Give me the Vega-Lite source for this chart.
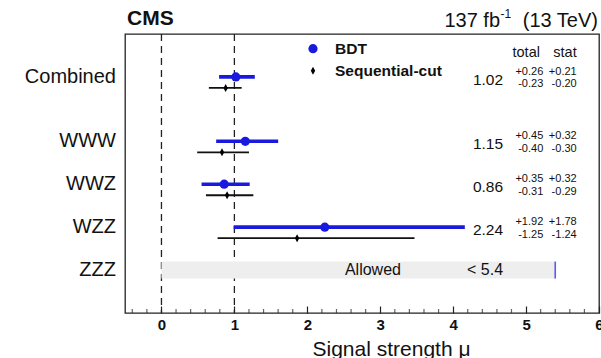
{
  "$schema": "https://vega.github.io/schema/vega-lite/v6.json",
  "width": 474,
  "height": 279,
  "autosize": {"type": "none"},
  "padding": {"left": 125, "top": 34, "right": 2, "bottom": 45},
  "background": "white",
  "config": {
    "font": "Liberation Sans",
    "view": {"stroke": "#222222", "strokeWidth": 1.3},
    "locale": {"number": {"decimal": ".", "thousands": ",", "grouping": [3], "currency": ["$", ""], "minus": "-"}},
    "axisX": {
      "tickColor": "#222222",
      "tickWidth": 1.2,
      "tickSize": -7,
      "domain": false,
      "grid": false,
      "labelFont": "Liberation Sans",
      "labelFontWeight": "bold",
      "labelFontSize": 15,
      "labelColor": "#111111",
      "labelBaseline": "alphabetic",
      "labelPadding": 23,
      "labelFlush": false,
      "labelOverlap": false,
      "labelBound": false,
      "titleFont": "Liberation Sans",
      "titleFontSize": 21,
      "titleFontWeight": "normal",
      "titleColor": "#111111",
      "titleX": 266,
      "titleY": 42,
      "titleAlign": "center",
      "titleBaseline": "alphabetic"
    }
  },
  "data": {"values": [{"k": 1}]},
  "datasets": {
    "rows": [
      {"name": "Combined", "row": 5.5, "bdt": 1.02, "bdt_lo": 0.79, "bdt_hi": 1.28, "seq": 0.88, "seq_lo": 0.65, "seq_hi": 1.10, "tot_up": 0.26, "tot_dn": -0.23, "stat_up": 0.21, "stat_dn": -0.20},
      {"name": "WWW", "row": 4, "bdt": 1.15, "bdt_lo": 0.75, "bdt_hi": 1.60, "seq": 0.83, "seq_lo": 0.49, "seq_hi": 1.20, "tot_up": 0.45, "tot_dn": -0.40, "stat_up": 0.32, "stat_dn": -0.30},
      {"name": "WWZ", "row": 3, "bdt": 0.86, "bdt_lo": 0.55, "bdt_hi": 1.21, "seq": 0.90, "seq_lo": 0.61, "seq_hi": 1.26, "tot_up": 0.35, "tot_dn": -0.31, "stat_up": 0.32, "stat_dn": -0.29},
      {"name": "WZZ", "row": 2, "bdt": 2.24, "bdt_lo": 0.99, "bdt_hi": 4.16, "seq": 1.86, "seq_lo": 0.77, "seq_hi": 3.47, "tot_up": 1.92, "tot_dn": -1.25, "stat_up": 1.78, "stat_dn": -1.24},
      {"name": "ZZZ", "row": 1, "limit": 5.4, "limit_label": "< 5.4"}
    ],
    "refs": [{"mu": 0}, {"mu": 1}],
    "minor": [
      {"v": -0.4}, {"v": -0.2}, {"v": 0.2}, {"v": 0.4}, {"v": 0.6}, {"v": 0.8},
      {"v": 1.2}, {"v": 1.4}, {"v": 1.6}, {"v": 1.8}, {"v": 2.2}, {"v": 2.4}, {"v": 2.6}, {"v": 2.8},
      {"v": 3.2}, {"v": 3.4}, {"v": 3.6}, {"v": 3.8}, {"v": 4.2}, {"v": 4.4}, {"v": 4.6}, {"v": 4.8},
      {"v": 5.2}, {"v": 5.4}, {"v": 5.6}, {"v": 5.8}
    ]
  },
  "layer": [
    {
      "data": {"name": "refs"},
      "mark": {"type": "rule", "color": "#222222", "strokeWidth": 1.3, "strokeDash": [7, 5]},
      "encoding": {
        "x": {
          "field": "mu", "type": "quantitative",
          "title": "Signal strength μ",
          "scale": {"domain": [-0.5, 6], "nice": false, "zero": false},
          "axis": {
            "values": [0, 1, 2, 3, 4, 5, 6],
            "format": "d",
            "tickSize": -7,
            "labelOverlap": false,
            "labelFlush": false,
            "labelBound": false,
            "title": "Signal strength μ"
          }
        }
      }
    },
    {
      "data": {"name": "minor"},
      "mark": {"type": "tick", "orient": "vertical", "color": "#222222", "size": 4, "thickness": 1.2, "yOffset": -2},
      "encoding": {
        "x": {"field": "v", "type": "quantitative"},
        "y": {"datum": 0, "type": "quantitative", "axis": null}
      }
    },
    {
      "data": {"name": "rows"},
      "transform": [{"filter": "datum.limit != null"}],
      "mark": {"type": "rule", "color": "#eeeeee", "strokeWidth": 17, "strokeCap": "butt"},
      "encoding": {
        "x": {"field": "limit", "type": "quantitative"},
        "x2": {"datum": 0},
        "y": {"field": "row", "type": "quantitative", "scale": {"domain": [0, 6.5], "nice": false, "zero": false}, "axis": null}
      }
    },
    {
      "data": {"name": "rows"},
      "transform": [{"filter": "datum.limit != null"}],
      "mark": {"type": "tick", "orient": "vertical", "color": "#1a1adf", "size": 17, "thickness": 1.6},
      "encoding": {
        "x": {"field": "limit", "type": "quantitative"},
        "y": {"field": "row", "type": "quantitative", "axis": null}
      }
    },
    {
      "data": {"name": "rows"},
      "transform": [{"filter": "datum.limit != null"}],
      "mark": {"type": "text", "text": "Allowed", "fontSize": 16, "color": "#111111", "align": "center", "baseline": "middle"},
      "encoding": {
        "x": {"datum": 2.9, "type": "quantitative"},
        "y": {"field": "row", "type": "quantitative", "axis": null}
      }
    },
    {
      "data": {"name": "rows"},
      "transform": [{"filter": "datum.limit != null"}],
      "mark": {"type": "text", "fontSize": 16, "color": "#111111", "align": "center", "baseline": "middle"},
      "encoding": {
        "x": {"datum": 4.437, "type": "quantitative"},
        "y": {"field": "row", "type": "quantitative", "axis": null},
        "text": {"field": "limit_label"}
      }
    },
    {
      "data": {"name": "rows"},
      "transform": [{"filter": "datum.seq != null"}],
      "mark": {"type": "rule", "color": "#111111", "strokeWidth": 1.8, "yOffset": 11},
      "encoding": {
        "x": {"field": "seq_lo", "type": "quantitative"},
        "x2": {"field": "seq_hi"},
        "y": {"field": "row", "type": "quantitative", "axis": null}
      }
    },
    {
      "data": {"name": "rows"},
      "transform": [{"filter": "datum.seq != null"}],
      "mark": {"type": "point", "shape": "M0,-1L0.55,0L0,1L-0.55,0Z", "filled": true, "color": "#000000", "opacity": 1, "size": 64, "yOffset": 11},
      "encoding": {
        "x": {"field": "seq", "type": "quantitative"},
        "y": {"field": "row", "type": "quantitative", "axis": null}
      }
    },
    {
      "data": {"name": "rows"},
      "transform": [{"filter": "datum.bdt != null"}],
      "mark": {"type": "rule", "color": "#1a1adf", "strokeWidth": 3.6},
      "encoding": {
        "x": {"field": "bdt_lo", "type": "quantitative"},
        "x2": {"field": "bdt_hi"},
        "y": {"field": "row", "type": "quantitative", "axis": null}
      }
    },
    {
      "data": {"name": "rows"},
      "transform": [{"filter": "datum.bdt != null"}],
      "mark": {"type": "point", "shape": "circle", "filled": true, "color": "#1a1adf", "opacity": 1, "size": 85},
      "encoding": {
        "x": {"field": "bdt", "type": "quantitative"},
        "y": {"field": "row", "type": "quantitative", "axis": null}
      }
    },
    {
      "data": {"name": "rows"},
      "mark": {"type": "text", "fontSize": 20, "color": "#111111", "align": "right", "baseline": "middle", "dx": -9},
      "encoding": {
        "x": {"datum": -0.5, "type": "quantitative"},
        "y": {"field": "row", "type": "quantitative", "axis": null},
        "text": {"field": "name"}
      }
    },
    {
      "data": {"name": "rows"},
      "transform": [{"filter": "datum.bdt != null"}],
      "mark": {"type": "text", "fontSize": 15.5, "color": "#111111", "align": "center", "baseline": "middle", "dy": 3},
      "encoding": {
        "x": {"datum": 4.478, "type": "quantitative"},
        "y": {"field": "row", "type": "quantitative", "axis": null},
        "text": {"field": "bdt", "format": ".2f"}
      }
    },
    {
      "data": {"name": "rows"},
      "transform": [{"filter": "datum.bdt != null"}],
      "mark": {"type": "text", "fontSize": 11, "color": "#111111", "align": "right", "baseline": "middle", "dy": -5},
      "encoding": {
        "x": {"datum": 5.236, "type": "quantitative"},
        "y": {"field": "row", "type": "quantitative", "axis": null},
        "text": {"field": "tot_up", "format": "+.2f"}
      }
    },
    {
      "data": {"name": "rows"},
      "transform": [{"filter": "datum.bdt != null"}],
      "mark": {"type": "text", "fontSize": 11, "color": "#111111", "align": "right", "baseline": "middle", "dy": 7.5},
      "encoding": {
        "x": {"datum": 5.236, "type": "quantitative"},
        "y": {"field": "row", "type": "quantitative", "axis": null},
        "text": {"field": "tot_dn", "format": ".2f"}
      }
    },
    {
      "data": {"name": "rows"},
      "transform": [{"filter": "datum.bdt != null"}],
      "mark": {"type": "text", "fontSize": 11, "color": "#111111", "align": "right", "baseline": "middle", "dy": -5},
      "encoding": {
        "x": {"datum": 5.694, "type": "quantitative"},
        "y": {"field": "row", "type": "quantitative", "axis": null},
        "text": {"field": "stat_up", "format": "+.2f"}
      }
    },
    {
      "data": {"name": "rows"},
      "transform": [{"filter": "datum.bdt != null"}],
      "mark": {"type": "text", "fontSize": 11, "color": "#111111", "align": "right", "baseline": "middle", "dy": 7.5},
      "encoding": {
        "x": {"datum": 5.694, "type": "quantitative"},
        "y": {"field": "row", "type": "quantitative", "axis": null},
        "text": {"field": "stat_dn", "format": ".2f"}
      }
    },
    {
      "mark": {"type": "text", "text": "total", "fontSize": 14.5, "color": "#111111", "align": "right", "baseline": "middle"},
      "encoding": {
        "x": {"datum": 5.19, "type": "quantitative"},
        "y": {"datum": 6.065, "type": "quantitative", "axis": null}
      }
    },
    {
      "mark": {"type": "text", "text": "stat", "fontSize": 14.5, "color": "#111111", "align": "right", "baseline": "middle"},
      "encoding": {
        "x": {"datum": 5.694, "type": "quantitative"},
        "y": {"datum": 6.065, "type": "quantitative", "axis": null}
      }
    },
    {
      "mark": {"type": "point", "shape": "circle", "filled": true, "color": "#1a1adf", "opacity": 1, "size": 85},
      "encoding": {
        "x": {"datum": 2.078, "type": "quantitative"},
        "y": {"datum": 6.157, "type": "quantitative", "axis": null}
      }
    },
    {
      "mark": {"type": "point", "shape": "M0,-1L0.55,0L0,1L-0.55,0Z", "filled": true, "color": "#000000", "opacity": 1, "size": 64},
      "encoding": {
        "x": {"datum": 2.078, "type": "quantitative"},
        "y": {"datum": 5.645, "type": "quantitative", "axis": null}
      }
    },
    {
      "mark": {"type": "text", "text": "BDT", "fontSize": 15.5, "fontWeight": "bold", "color": "#111111", "align": "left", "baseline": "middle"},
      "encoding": {
        "x": {"datum": 2.38, "type": "quantitative"},
        "y": {"datum": 6.157, "type": "quantitative", "axis": null}
      }
    },
    {
      "mark": {"type": "text", "text": "Sequential-cut", "fontSize": 15.5, "fontWeight": "bold", "color": "#111111", "align": "left", "baseline": "middle"},
      "encoding": {
        "x": {"datum": 2.38, "type": "quantitative"},
        "y": {"datum": 5.645, "type": "quantitative", "axis": null}
      }
    },
    {
      "mark": {"type": "text", "text": "CMS", "fontSize": 21, "fontWeight": "bold", "color": "#111111", "align": "left", "baseline": "alphabetic"},
      "encoding": {
        "x": {"datum": -0.473, "type": "quantitative"},
        "y": {"datum": 6.71, "type": "quantitative", "axis": null}
      }
    },
    {
      "mark": {"type": "text", "text": "137 fb", "fontSize": 20, "color": "#111111", "align": "right", "baseline": "alphabetic"},
      "encoding": {
        "x": {"datum": 4.643, "type": "quantitative"},
        "y": {"datum": 6.67, "type": "quantitative", "axis": null}
      }
    },
    {
      "mark": {"type": "text", "text": "-1", "fontSize": 12, "color": "#111111", "align": "left", "baseline": "alphabetic"},
      "encoding": {
        "x": {"datum": 4.65, "type": "quantitative"},
        "y": {"datum": 6.88, "type": "quantitative", "axis": null}
      }
    },
    {
      "mark": {"type": "text", "text": "(13 TeV)", "fontSize": 20, "color": "#111111", "align": "right", "baseline": "alphabetic"},
      "encoding": {
        "x": {"datum": 5.986, "type": "quantitative"},
        "y": {"datum": 6.67, "type": "quantitative", "axis": null}
      }
    }
  ]
}
